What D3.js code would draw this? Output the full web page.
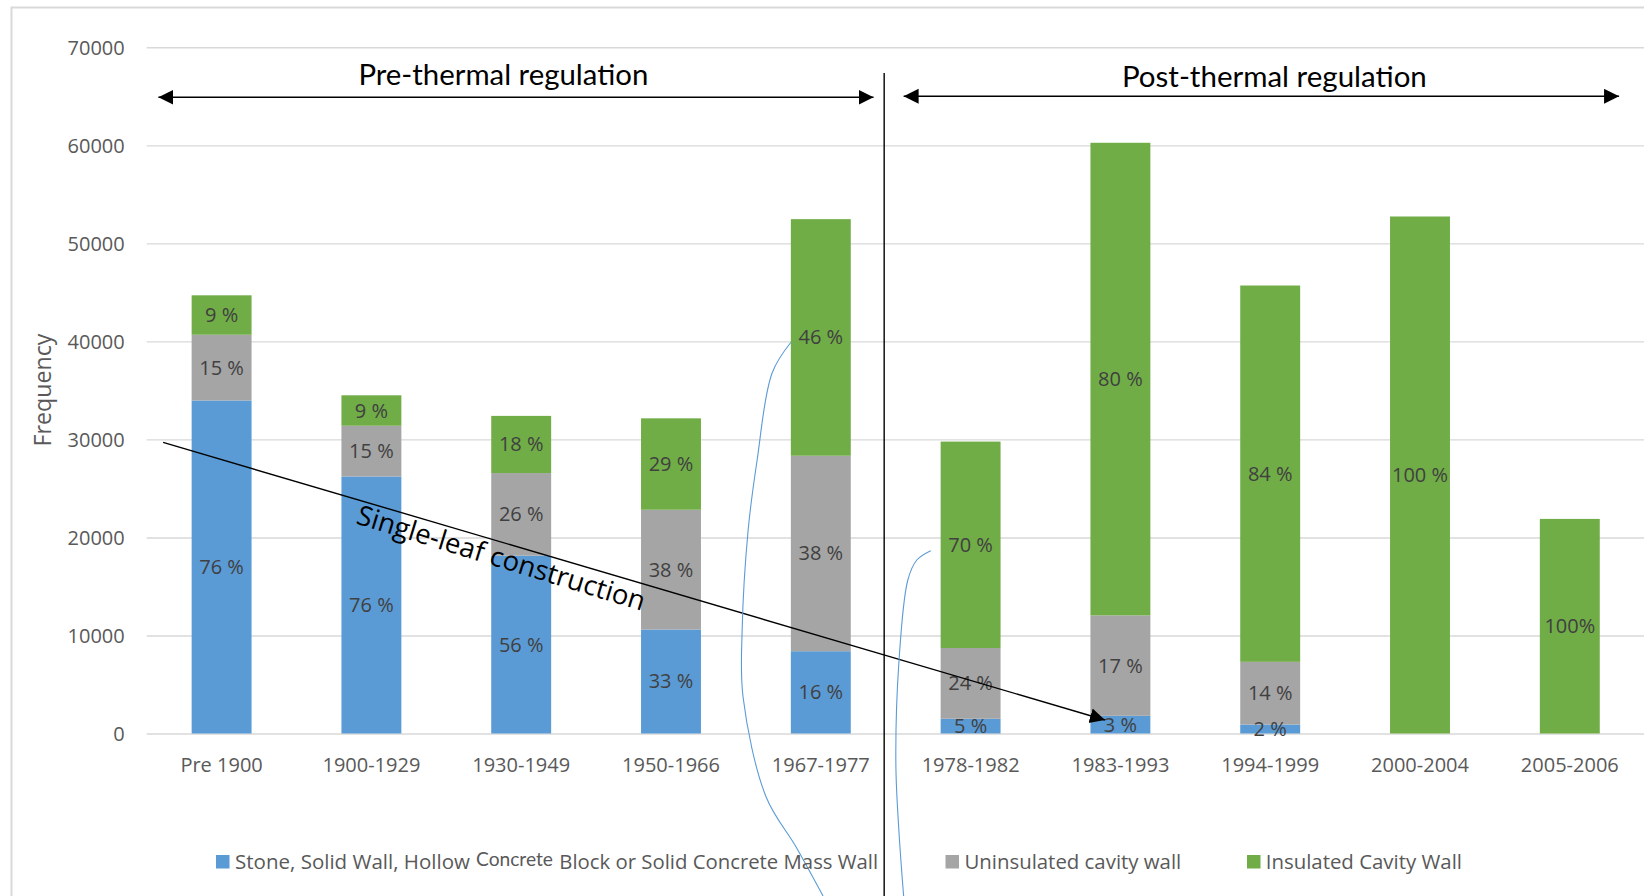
<!DOCTYPE html>
<html>
<head>
<meta charset="utf-8">
<script src="https://cdn.jsdelivr.net/npm/d3@7"></script>
<style>
  html, body { margin: 0; padding: 0; background: #fff; }
  svg { display: block; }
</style>
</head>
<body>
<svg id="chart" width="1644" height="896"></svg>
<script>
// ---- data -------------------------------------------------------------
const categories = ["Pre 1900", "1900-1929", "1930-1949", "1950-1966", "1967-1977",
                    "1978-1982", "1983-1993", "1994-1999", "2000-2004", "2005-2006"];
// dwellings per construction period
const totals = [44700, 34500, 32400, 32150, 52470, 30080, 60260, 45700, 52740, 21890];
// share of each wall type within a period (%)
const pctStone       = [76, 76, 56, 33, 16, 5, 3, 2, 0, 0];
const pctUninsulated = [15, 15, 26, 38, 38, 24, 17, 14, 0, 0];
const pctInsulated   = [9, 9, 18, 29, 46, 70, 80, 84, 100, 100];
const pctSpacer      = [" ", " ", " ", " ", " ", " ", " ", " ", " ", ""];
const yTicks = [0, 10000, 20000, 30000, 40000, 50000, 60000, 70000];
const seriesKeys   = ["stone", "uninsulated", "insulated"];
const seriesColors = ["#5b9bd5", "#a5a5a5", "#70ad47"];
const seriesPct    = [pctStone, pctUninsulated, pctInsulated];
const legendNames  = ["Stone, Solid Wall, Hollow Concrete Block or Solid Concrete Mass Wall",
                      "Uninsulated cavity wall", "Insulated Cavity Wall"];

// annotation anchors as [category position, frequency]
const preRegArrow     = [[-0.422, 64900], [4.352, 64900]];
const postRegArrow    = [[4.553, 65000], [9.329, 65000]];
const preRegLabel     = [1.881, 66150];
const postRegLabel    = [7.028, 65980];
const regDivider      = [[4.423, 67380], [4.423, -17500]];
const singleLeafArrow = [[-0.3905, 29700], [5.897, 1377]];
const singleLeafLabel = [0.891, 21440];
const bracketA = [[3.802, 39940], [3.675, 36780], [3.575, 27900], [3.515, 20760], [3.475, 10560],
                  [3.481, 3720], [3.635, -6480], [3.835, -11580], [4.015, -16580]];
const bracketB = [[4.734, 18650], [4.641, 17700], [4.581, 15660], [4.521, 7190],
                  [4.501, -3010], [4.521, -9840], [4.553, -16580]];

// ---- setup ------------------------------------------------------------
const svg = d3.select("#chart");
const plotLeft = 146.7, plotRight = 1644.7, plotTop = 47.3, plotBottom = 733.5;
const sans = "'Open Sans', 'Noto Sans', sans-serif";
const titleFont = "Lato, 'Open Sans', sans-serif";
const textGrey = "#595959";

const x = d3.scaleBand().domain(categories).range([plotLeft, plotRight])
  .paddingInner(0.6).paddingOuter(0.3);
const y = d3.scaleLinear().domain([0, 70000]).range([plotBottom, plotTop]);
const bw = x.bandwidth();
const xi = d3.scaleLinear().domain([0, categories.length - 1])
  .range([x(categories[0]) + bw / 2, x(categories[categories.length - 1]) + bw / 2]);
const at = p => [xi(p[0]), y(p[1])];

function fit(sel, width) {
  const w = sel.node().getComputedTextLength();
  const fs = parseFloat(sel.attr("font-size"));
  sel.attr("font-size", (fs * width / w).toFixed(2));
  return sel;
}

// chart frame
svg.append("path").attr("d", "M11.5,900 V7.5 H1650")
  .attr("fill", "none").attr("stroke", "#d9d9d9").attr("stroke-width", 2);

// arrowhead marker
const defs = svg.append("defs");
defs.append("marker").attr("id", "head").attr("markerUnits", "userSpaceOnUse")
  .attr("markerWidth", 16).attr("markerHeight", 16).attr("refX", 15).attr("refY", 7.5)
  .attr("orient", "auto-start-reverse")
  .append("path").attr("d", "M0,0 L15,7.5 L0,15 Z").attr("fill", "#000");

// ---- axes -------------------------------------------------------------
const yAxis = svg.append("g").attr("transform", `translate(${plotLeft},0)`)
  .call(d3.axisLeft(y).tickValues(yTicks).tickFormat(d3.format("d"))
    .tickSize(-(1644 - plotLeft)).tickPadding(22));
yAxis.select(".domain").remove();
yAxis.selectAll(".tick line").attr("stroke", "#d9d9d9").attr("stroke-width", 1.4);
yAxis.selectAll(".tick text").attr("font-family", sans).attr("font-size", 20)
  .attr("fill", textGrey).attr("dy", "0.35em");

const xAxis = svg.append("g").attr("transform", `translate(0,${plotBottom})`)
  .call(d3.axisBottom(x).tickSize(0).tickPadding(24));
xAxis.select(".domain").remove();
xAxis.selectAll(".tick text").attr("font-family", sans).attr("font-size", 20)
  .attr("fill", textGrey);

fit(svg.append("text").attr("transform", "translate(43,390) rotate(-90)")
  .attr("text-anchor", "middle").attr("dy", "0.35em")
  .attr("font-family", sans).attr("font-size", 20).attr("fill", textGrey)
  .text("Frequency"), 113);

// ---- stacked bars -----------------------------------------------------
const rows = categories.map((c, i) => ({
  cat: c, i,
  stone: totals[i] * pctStone[i] / 100,
  uninsulated: totals[i] * pctUninsulated[i] / 100,
  insulated: totals[i] * pctInsulated[i] / 100
}));
const stacked = d3.stack().keys(seriesKeys)(rows);

const layers = svg.append("g").selectAll("g").data(stacked).join("g")
  .attr("fill", (d, k) => seriesColors[k]);
layers.selectAll("rect").data(d => d).join("rect")
  .attr("x", d => x(d.data.cat)).attr("width", bw)
  .attr("y", d => y(d[1])).attr("height", d => y(d[0]) - y(d[1]));

// percentage labels centred in each segment
const labels = svg.append("g").attr("font-family", sans).attr("font-size", 20)
  .attr("fill", "#404040").attr("text-anchor", "middle");
stacked.forEach((layer, k) => {
  layer.forEach((d, i) => {
    const p = seriesPct[k][i];
    if (p <= 0) return;
    labels.append("text")
      .attr("x", x(d.data.cat) + bw / 2)
      .attr("y", (y(d[0]) + y(d[1])) / 2)
      .attr("dy", "0.35em")
      .text(`${p}${pctSpacer[i]}%`);
  });
});

// ---- regulation annotations ------------------------------------------
const line = d3.line();
const ann = svg.append("g").attr("fill", "none").attr("stroke", "#000").attr("stroke-width", 1.4);
ann.append("path").attr("d", line(preRegArrow.map(at)))
  .attr("marker-start", "url(#head)").attr("marker-end", "url(#head)");
ann.append("path").attr("d", line(postRegArrow.map(at)))
  .attr("marker-start", "url(#head)").attr("marker-end", "url(#head)");
ann.append("path").attr("d", line(regDivider.map(at)));
ann.append("path").attr("d", line(singleLeafArrow.map(at))).attr("marker-end", "url(#head)");

const preXY = at(preRegLabel), postXY = at(postRegLabel);
fit(svg.append("text").attr("x", preXY[0]).attr("y", preXY[1]).attr("text-anchor", "middle")
  .attr("font-family", titleFont).attr("font-size", 28).attr("fill", "#000")
  .text("Pre-thermal regulation"), 290);
fit(svg.append("text").attr("x", postXY[0]).attr("y", postXY[1]).attr("text-anchor", "middle")
  .attr("font-family", titleFont).attr("font-size", 28).attr("fill", "#000")
  .text("Post-thermal regulation"), 305);

const slXY = at(singleLeafLabel);
fit(svg.append("text").attr("transform", `translate(${slXY[0]},${slXY[1]}) rotate(17)`)
  .attr("font-family", sans).attr("font-size", 25).attr("fill", "#000")
  .text("Single-leaf construction"), 300);

// thin blue bracket strokes
const curve = d3.line().curve(d3.curveCatmullRom.alpha(0.5));
svg.append("g").attr("fill", "none").attr("stroke", "#5b9bd5").attr("stroke-width", 1.1)
  .selectAll("path").data([bracketA, bracketB]).join("path")
  .attr("d", d => curve(d.map(at)));

// ---- legend -----------------------------------------------------------
const leg = svg.append("g").attr("font-family", sans).attr("fill", textGrey);
const swatchX = [216, 945.5, 1247];
swatchX.forEach((sx, k) => {
  leg.append("rect").attr("x", sx).attr("y", 855).attr("width", 13.5).attr("height", 13.5)
    .attr("fill", seriesColors[k]);
});
// first entry is set in three runs, the middle word slightly smaller and raised
const firstName = legendNames[0];
const partA = firstName.slice(0, firstName.indexOf(" Concrete"));
const partB = "Concrete";
const partC = firstName.slice(firstName.indexOf(" Concrete") + 10);
fit(leg.append("text").attr("x", 235).attr("y", 869.3).attr("font-size", 20).text(partA), 235);
fit(leg.append("text").attr("x", 476).attr("y", 866).attr("font-size", 17).attr("font-family", titleFont).text(partB), 77);
fit(leg.append("text").attr("x", 559.3).attr("y", 869.3).attr("font-size", 20).text(partC), 319);
fit(leg.append("text").attr("x", 964.4).attr("y", 869.3).attr("font-size", 20).text(legendNames[1]), 217);
fit(leg.append("text").attr("x", 1265.7).attr("y", 869.3).attr("font-size", 20).text(legendNames[2]), 196.3);
</script>
</body>
</html>
